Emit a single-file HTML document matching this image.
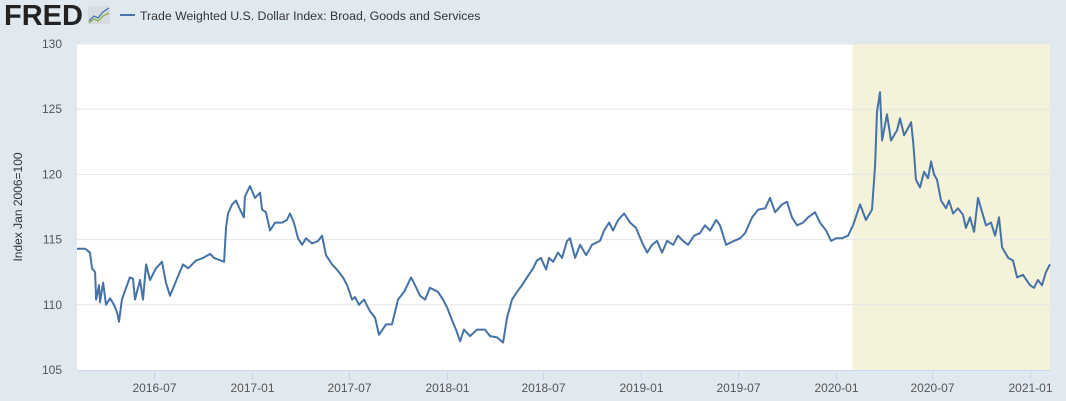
<!DOCTYPE html>
<html><head><meta charset="utf-8"><style>
body{margin:0;background:#e1e9f0;font-family:"Liberation Sans",sans-serif;}
#wrap{position:relative;width:1066px;height:401px;overflow:hidden;background:#e1e9f0;}
</style></head><body>
<div id="wrap">
<svg id="chart" width="1066" height="401">
  <g>
    <text x="4" y="25" font-family="Liberation Sans" font-weight="bold" font-size="29" fill="#222" letter-spacing="0">FRED</text>
    <rect x="88" y="6" width="22" height="18" rx="2" fill="#d8dde2" />
    <polyline points="89,21 94,16 98,18 103,12 109,8" fill="none" stroke="#4572a7" stroke-width="1.3"/>
    <polyline points="89,23 94,19 98,21 103,16 109,13" fill="none" stroke="#8cb44a" stroke-width="1.3"/>
  </g>
  <g>
    <line x1="120" y1="15" x2="135" y2="15" stroke="#4572a7" stroke-width="2"/>
    <text x="140" y="20" font-size="12.3" fill="#333">Trade Weighted U.S. Dollar Index: Broad, Goods and Services</text>
  </g>
  <rect x="77" y="44" width="973" height="326" fill="#fff"/>
  <g id="rec"></g>
  <g id="grid"></g>
  <g id="yt"></g>
  <g id="xt"></g>
  <text transform="translate(22,207) rotate(-90)" text-anchor="middle" font-size="12" fill="#333">Index Jan 2006=100</text>
  <path id="line" fill="none" stroke="#4572a7" stroke-width="2" stroke-linejoin="round"/>
</svg>
</div>
<script>
const dates=[2016.100,2016.141,2016.167,2016.177,2016.193,2016.198,2016.213,2016.218,2016.234,2016.249,2016.270,2016.290,2016.306,2016.316,2016.331,2016.347,2016.372,2016.388,2016.398,2016.424,2016.439,2016.455,2016.475,2016.506,2016.537,2016.557,2016.578,2016.614,2016.645,2016.671,2016.712,2016.748,2016.784,2016.804,2016.856,2016.866,2016.876,2016.897,2016.917,2016.938,2016.958,2016.963,2016.989,2017.015,2017.041,2017.051,2017.071,2017.092,2017.118,2017.154,2017.179,2017.195,2017.215,2017.236,2017.257,2017.277,2017.308,2017.339,2017.359,2017.380,2017.411,2017.436,2017.467,2017.488,2017.514,2017.529,2017.549,2017.575,2017.606,2017.632,2017.652,2017.688,2017.719,2017.750,2017.781,2017.817,2017.837,2017.863,2017.889,2017.914,2017.955,2017.981,2018.002,2018.028,2018.048,2018.069,2018.089,2018.120,2018.156,2018.197,2018.223,2018.259,2018.290,2018.310,2018.336,2018.362,2018.387,2018.413,2018.444,2018.464,2018.485,2018.511,2018.526,2018.547,2018.572,2018.593,2018.619,2018.634,2018.660,2018.686,2018.717,2018.747,2018.788,2018.809,2018.835,2018.855,2018.881,2018.912,2018.943,2018.973,2019.004,2019.030,2019.056,2019.081,2019.107,2019.133,2019.164,2019.189,2019.215,2019.241,2019.272,2019.302,2019.328,2019.354,2019.385,2019.405,2019.436,2019.477,2019.508,2019.534,2019.570,2019.601,2019.637,2019.662,2019.688,2019.724,2019.749,2019.775,2019.801,2019.832,2019.857,2019.893,2019.919,2019.950,2019.976,2020.001,2020.032,2020.063,2020.089,2020.125,2020.155,2020.186,2020.202,2020.212,2020.227,2020.238,2020.263,2020.284,2020.315,2020.330,2020.351,2020.366,2020.387,2020.397,2020.402,2020.412,2020.433,2020.454,2020.474,2020.490,2020.505,2020.520,2020.541,2020.567,2020.582,2020.603,2020.628,2020.654,2020.669,2020.690,2020.711,2020.731,2020.752,2020.772,2020.798,2020.819,2020.839,2020.855,2020.886,2020.911,2020.932,2020.962,2020.998,2021.019,2021.039,2021.060,2021.080,2021.101];
const values=[114.3,114.3,114.0,112.8,112.5,110.4,111.5,110.2,111.7,110.0,110.5,110.0,109.4,108.7,110.4,111.1,112.1,112.0,110.4,111.9,110.4,113.1,111.9,112.8,113.3,111.7,110.7,112.0,113.1,112.8,113.4,113.6,113.9,113.6,113.3,115.9,117.0,117.7,118.0,117.3,116.7,118.3,119.1,118.2,118.6,117.3,117.1,115.7,116.3,116.3,116.5,117.0,116.3,115.1,114.6,115.1,114.7,114.9,115.3,113.8,113.1,112.7,112.1,111.5,110.4,110.6,110.0,110.4,109.5,109.0,107.7,108.5,108.5,110.4,111.0,112.1,111.5,110.7,110.4,111.3,111.0,110.4,109.8,108.8,108.1,107.2,108.1,107.6,108.1,108.1,107.6,107.5,107.1,109.0,110.4,111.0,111.5,112.1,112.8,113.4,113.6,112.7,113.6,113.3,114.0,113.6,114.9,115.1,113.6,114.6,113.8,114.6,114.9,115.7,116.3,115.7,116.5,117.0,116.3,115.9,114.8,114.0,114.6,114.9,114.0,114.9,114.6,115.3,114.9,114.6,115.3,115.5,116.1,115.7,116.5,116.1,114.6,114.9,115.1,115.5,116.7,117.3,117.4,118.2,117.1,117.7,117.9,116.7,116.1,116.3,116.7,117.1,116.3,115.7,114.9,115.1,115.1,115.3,116.1,117.7,116.5,117.3,120.7,124.8,126.3,122.6,124.6,122.6,123.4,124.3,123.0,123.4,124.0,122.6,121.7,119.6,119.0,120.2,119.7,121.0,120.0,119.6,118.0,117.4,118.0,117.0,117.4,116.9,115.9,116.7,115.6,118.2,117.1,116.1,116.3,115.3,116.7,114.4,113.6,113.4,112.1,112.3,111.5,111.3,111.9,111.5,112.5,113.1];
const yTicks=[105,110,115,120,125,130];
const xTickPos=[2016.497,2017.0,2017.496,2018.0,2018.496,2019.0,2019.496,2020.0,2020.497,2021.0];
const xTickLabels=["2016-07","2017-01","2017-07","2018-01","2018-07","2019-01","2019-07","2020-01","2020-07","2021-01"];
const recession=[2020.087,2021.101];

const X0=77,X1=1050,Y0=370,Y1=44,D0=2016.100,D1=2021.101,V0=105,V1=130;
const sx=t=>X0+(t-D0)/(D1-D0)*(X1-X0);
const sy=v=>Y0-(v-V0)/(V1-V0)*(Y0-Y1);
const NS="http://www.w3.org/2000/svg";
function mk(tag,attrs,parent){const e=document.createElementNS(NS,tag);for(const k in attrs)e.setAttribute(k,attrs[k]);document.getElementById(parent).appendChild(e);return e;}

const r=mk('rect',{x:sx(recession[0]),y:Y1,width:sx(recession[1])-sx(recession[0]),height:Y0-Y1,fill:'#f4f3da'},'rec');



yTicks.forEach(v=>{
  if(v>V0){const g=mk('line',{x1:X0,x2:X1,y1:sy(v),y2:sy(v),stroke:'#e6e6e6','stroke-width':1},'grid');
  
  }
  const t=mk('text',{x:62,y:sy(v)+4,'text-anchor':'end','font-size':12,fill:'#555'},'yt');
  t.textContent=v;
  
  
});
const ax=mk('line',{x1:X0,x2:X1,y1:Y0+0.5,y2:Y0+0.5,stroke:'#ccd6eb','stroke-width':1},'xt');


xTickPos.forEach((p,i)=>{
  const x=Math.round(sx(p))+0.5;
  const tk=mk('line',{x1:x,x2:x,y1:Y0,y2:Y0+10,stroke:'#ccd6eb','stroke-width':1},'xt');
  
  
  const t=mk('text',{x:x,y:Y0+22,'text-anchor':'middle','font-size':12,fill:'#555'},'xt');
  t.textContent=xTickLabels[i];
  
  
});
document.getElementById('line').setAttribute('d',dates.map((d,i)=>(i?'L':'M')+sx(d).toFixed(1)+','+sy(values[i]).toFixed(1)).join(''));
</script>
</body></html>
